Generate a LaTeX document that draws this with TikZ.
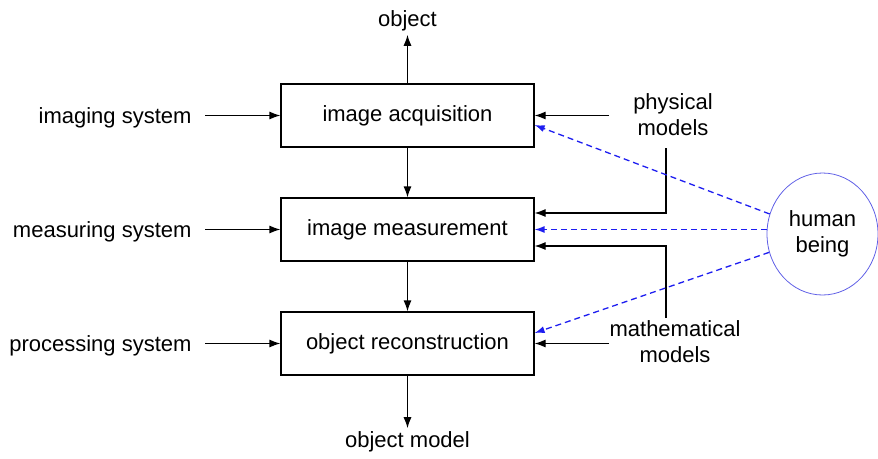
\documentclass[tikz,border=0pt]{standalone}
\usepackage{fontspec}
\setmainfont{Liberation Sans}
\usetikzlibrary{arrows.meta, shapes.geometric}

\definecolor{hintblue}{RGB}{30,30,240}
\definecolor{ringblue}{RGB}{95,95,230}

\tikzset{
  lbl/.style={font=\fontsize{22}{26}\selectfont, align=center},
  stage/.style={lbl, draw, line width=1.2pt, minimum width=253pt, minimum height=63pt, inner sep=0pt},
  flow/.style={-{Latex[length=11pt,width=8pt]}, line width=1.2pt},
  hint/.style={-{Latex[length=10pt,width=7pt]}, hintblue, line width=1.3pt, dash pattern=on 6pt off 4pt},
}

\begin{document}
\begin{tikzpicture}[x=1pt, y=-1pt]
  \useasboundingbox (0,0) rectangle (878,458);

  % processing chain
  \node[stage] (acq)    at (407.5,115.5) {image acquisition};
  \node[stage] (meas)   at (407.5,229.5) {image measurement};
  \node[stage] (recon)  at (407.5,343.5) {object reconstruction};

  \node[lbl] (obj)      at (407.5,21)  {object};
  \node[lbl] (objmodel) at (407.5,442) {object model};

  \draw[flow] (acq.north) -- (obj.south);
  \draw[flow] (acq) -- (meas);
  \draw[flow] (meas) -- (recon);
  \draw[flow] (recon.south) -- (objmodel.north);

  % systems on the left
  \node[lbl, anchor=east] (imsys)   at (195,118) {imaging system};
  \node[lbl, anchor=east] (meassys) at (195,232) {measuring system};
  \node[lbl, anchor=east] (procsys) at (195,346) {processing system};

  \draw[flow, shorten <=10pt] (imsys.east |- acq.west) -- (acq.west);
  \draw[flow, shorten <=10pt] (meassys.east |- meas.west) -- (meas.west);
  \draw[flow, shorten <=10pt] (procsys.east |- recon.west) -- (recon.west);

  % models on the right
  \node[lbl] (phys) at (673,115)   {physical\\models};
  \node[lbl] (math) at (675,342)   {mathematical\\models};

  \coordinate (physin)   at (609,115.5);
  \coordinate (physdrop) at (666,148);
  \coordinate (mathrise) at (666,318);
  \coordinate (mathin)   at (609,343.5);

  \draw[flow] (physin) -- (acq.east);
  \draw[flow] (physdrop) |- ([yshift=16.5pt]meas.east);
  \draw[flow] (mathrise) |- ([yshift=-16.5pt]meas.east);
  \draw[flow] (mathin) -- (recon.east);

  % human being
  \node[lbl, ellipse, draw=ringblue, line width=0.8pt, inner sep=0pt,
        minimum width=111pt, minimum height=122pt] (human) at (822.5,234) {human\\being};

  \draw[hint] (human) -- ([yshift=-9.5pt]acq.east);
  \draw[hint] (human.west |- meas.east) -- (meas.east);
  \draw[hint] (human) -- ([yshift=10.5pt]recon.east);
\end{tikzpicture}
\end{document}
